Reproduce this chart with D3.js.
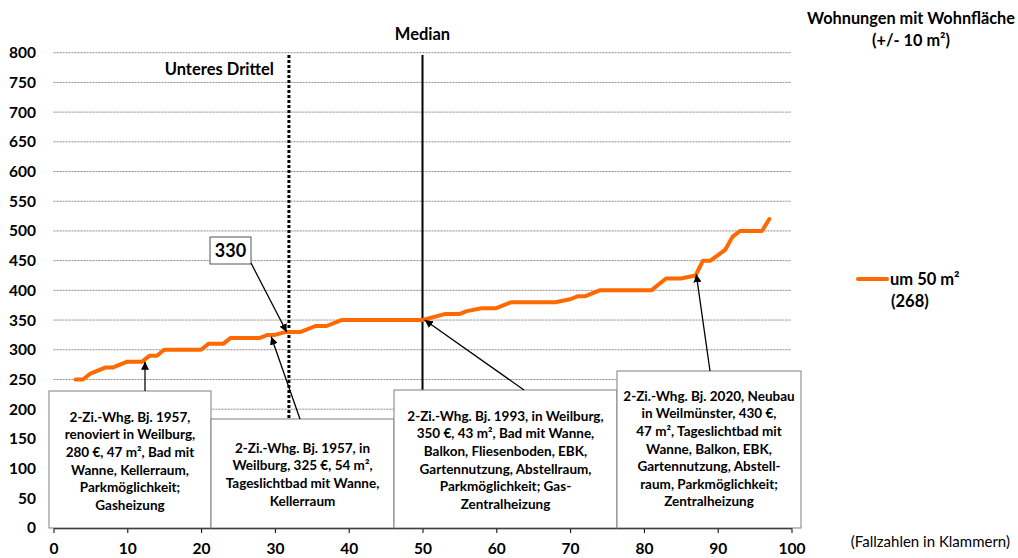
<!DOCTYPE html>
<html>
<head>
<meta charset="utf-8">
<script src="https://cdn.jsdelivr.net/npm/d3@7"></script>
<style>
  body { margin: 0; background: #fff; }
  svg text { font-family: Lato, "Open Sans", sans-serif; }
</style>
</head>
<body>
<svg id="chart" width="1018" height="558"></svg>
<script>
// percentile position (x) and net rent in EUR (y)
var pctl  = [3, 4, 5, 7, 8, 10, 12, 13, 14, 15, 20, 21, 23, 24, 28, 29, 30, 31.5, 33.5, 35.5,
             37, 39, 50, 53, 55, 56, 58, 60, 62, 68, 70, 71, 72, 74, 81, 83, 85, 87, 88, 89,
             91, 92, 93, 96, 97];
var miete = [250, 250, 260, 270, 270, 280, 280, 290, 290, 300, 300, 310, 310, 320, 320, 325, 325, 330, 330, 340,
             340, 350, 350, 360, 360, 365, 370, 370, 380, 380, 385, 390, 390, 400, 400, 420, 420, 425, 450, 450,
             468, 490, 500, 500, 520];

var xTicks = [0, 10, 20, 30, 40, 50, 60, 70, 80, 90, 100];
var yTicks = [0, 50, 100, 150, 200, 250, 300, 350, 400, 450, 500, 550, 600, 650, 700, 750, 800];

var medianX = 50;
var drittelX = 31.9;
var highlightValue = 330;

var seriesName = "um 50 m²";
var seriesCount = "(268)";

// example flats: text lines and the point on the curve they refer to
var notes = [
  { lines: ["2-Zi.-Whg. Bj. 1957,", "renoviert in Weilburg,", "280 €, 47 m², Bad mit", "Wanne, Kellerraum,", "Parkmöglichkeit;", "Gasheizung"],
    target: [12.4, 280] },
  { lines: ["2-Zi.-Whg. Bj. 1957, in", "Weilburg, 325 €, 54 m²,", "Tageslichtbad mit Wanne,", "Kellerraum"],
    target: [29.5, 322] },
  { lines: ["2-Zi.-Whg. Bj. 1993, in Weilburg,", "350 €, 43 m², Bad mit Wanne,", "Balkon, Fliesenboden, EBK,", "Gartennutzung, Abstellraum,", "Parkmöglichkeit; Gas-", "Zentralheizung"],
    target: [50.3, 350] },
  { lines: ["2-Zi.-Whg. Bj. 2020, Neubau", "in Weilmünster, 430 €,", "47 m², Tageslichtbad mit", "Wanne, Balkon, EBK,", "Gartennutzung, Abstell-", "raum, Parkmöglichkeit;", "Zentralheizung"],
    target: [87.1, 427] }
];

// box layout in pixels (left, top, right, bottom, first text line, arrow start)
var boxLayout = [
  { x0: 49,  y0: 391, x1: 211, y1: 528, firstLine: 417, from: [145, 391] },
  { x0: 211, y0: 419, x1: 394, y1: 528, firstLine: 448, from: [300, 419] },
  { x0: 394, y0: 390, x1: 617, y1: 528, firstLine: 416, from: [524, 390] },
  { x0: 617, y0: 371, x1: 801, y1: 528, firstLine: 396, from: [710, 371] }
];

var svg = d3.select("#chart");
svg.append("rect").attr("width", 1018).attr("height", 558).attr("fill", "#fff");

var x = d3.scaleLinear().domain([0, 100]).range([53.5, 791.5]);
var y = d3.scaleLinear().domain([0, 800]).range([528, 52.7]);

// arrow head
svg.append("defs").append("marker")
  .attr("id", "head")
  .attr("viewBox", "0 0 10 10")
  .attr("refX", 10).attr("refY", 5)
  .attr("markerWidth", 8).attr("markerHeight", 8)
  .attr("markerUnits", "userSpaceOnUse")
  .attr("orient", "auto")
  .append("path")
  .attr("d", "M0,0 L10,5 L0,10 z")
  .attr("fill", "#000");

// gridlines
svg.append("g").selectAll("line")
  .data(yTicks.filter(function(d) { return d > 0; }))
  .enter().append("line")
  .attr("x1", x(0)).attr("x2", x(100))
  .attr("y1", function(d) { return y(d); })
  .attr("y2", function(d) { return y(d); })
  .attr("stroke", "#8a8a8a")
  .attr("stroke-width", 1)
  .attr("stroke-dasharray", "2,1");

// y axis labels only
var yAxis = svg.append("g")
  .attr("transform", "translate(" + x(0) + ",0)")
  .call(d3.axisLeft(y).tickValues(yTicks).tickSize(0).tickPadding(17.5));
yAxis.select(".domain").remove();
yAxis.selectAll("text")
  .style("font-size", "15.5px").style("font-weight", "bold").attr("fill", "#000");

// x axis
var xAxis = svg.append("g")
  .attr("transform", "translate(0," + y(0) + ")")
  .call(d3.axisBottom(x).tickValues(xTicks).tickSize(5).tickPadding(10).tickSizeOuter(0));
xAxis.select(".domain").attr("stroke", "#000").attr("stroke-width", 1.3);
xAxis.selectAll(".tick line").attr("stroke", "#000");
xAxis.selectAll("text")
  .style("font-size", "15.5px").style("font-weight", "bold").attr("fill", "#000");

// median and lower third lines
svg.append("line")
  .attr("x1", x(medianX)).attr("x2", x(medianX))
  .attr("y1", 55).attr("y2", y(0))
  .attr("stroke", "#000").attr("stroke-width", 2);
svg.append("text")
  .attr("x", x(medianX)).attr("y", 40)
  .attr("text-anchor", "middle")
  .style("font-size", "16.5px").style("font-weight", "bold")
  .text("Median");

svg.append("line")
  .attr("x1", x(drittelX)).attr("x2", x(drittelX))
  .attr("y1", 55).attr("y2", y(0))
  .attr("stroke", "#000").attr("stroke-width", 3)
  .attr("stroke-dasharray", "3,2");
svg.append("text")
  .attr("x", x(drittelX) - 15).attr("y", 75)
  .attr("text-anchor", "end")
  .style("font-size", "16.5px").style("font-weight", "bold")
  .text("Unteres Drittel");

// the series
var line = d3.line()
  .x(function(d, i) { return x(pctl[i]); })
  .y(function(d) { return y(d); });

svg.append("path")
  .datum(miete)
  .attr("d", line)
  .attr("fill", "none")
  .attr("stroke", "#ff6a00")
  .attr("stroke-width", 4)
  .attr("stroke-linejoin", "round")
  .attr("stroke-linecap", "round");

// annotation boxes
notes.forEach(function(n, i) {
  var b = boxLayout[i];
  var g = svg.append("g");
  g.append("rect")
    .attr("x", b.x0).attr("y", b.y0)
    .attr("width", b.x1 - b.x0).attr("height", b.y1 - b.y0)
    .attr("fill", "#fff").attr("stroke", "#7f7f7f").attr("stroke-width", 1);
  g.append("g").selectAll("text")
    .data(n.lines)
    .enter().append("text")
    .attr("x", (b.x0 + b.x1) / 2)
    .attr("y", function(d, j) { return b.firstLine + j * 17.6; })
    .attr("dy", "0.35em")
    .attr("text-anchor", "middle")
    .style("font-size", "13.5px").style("font-weight", "bold")
    .text(function(d) { return d; });
});

// arrows drawn after boxes
notes.forEach(function(n, i) {
  var b = boxLayout[i];
  svg.append("line")
    .attr("x1", b.from[0]).attr("y1", b.from[1])
    .attr("x2", x(n.target[0])).attr("y2", y(n.target[1]))
    .attr("stroke", "#000").attr("stroke-width", 1.3)
    .attr("marker-end", "url(#head)");
});

// 330 label
var lab = svg.append("g");
lab.append("rect")
  .attr("x", 210).attr("y", 237).attr("width", 41).attr("height", 27)
  .attr("fill", "#fff").attr("stroke", "#555").attr("stroke-width", 1);
lab.append("text")
  .attr("x", 230.5).attr("y", 250.5).attr("dy", "0.35em")
  .attr("text-anchor", "middle")
  .style("font-size", "18px").style("font-weight", "bold")
  .text(highlightValue);
svg.append("line")
  .attr("x1", 251).attr("y1", 263)
  .attr("x2", x(31.6)).attr("y2", y(highlightValue))
  .attr("stroke", "#000").attr("stroke-width", 1.3)
  .attr("marker-end", "url(#head)");

// title and legend
svg.append("text")
  .attr("x", 911).attr("y", 24)
  .attr("text-anchor", "middle")
  .style("font-size", "16.3px").style("font-weight", "bold")
  .text("Wohnungen mit Wohnfläche");
svg.append("text")
  .attr("x", 911).attr("y", 46)
  .attr("text-anchor", "middle")
  .style("font-size", "16.3px").style("font-weight", "bold")
  .text("(+/- 10 m²)");

svg.append("line")
  .attr("x1", 858).attr("x2", 887)
  .attr("y1", 279).attr("y2", 279)
  .attr("stroke", "#ff6a00").attr("stroke-width", 4)
  .attr("stroke-linecap", "round");
svg.append("text")
  .attr("x", 890).attr("y", 279).attr("dy", "0.35em")
  .style("font-size", "16.5px").style("font-weight", "bold")
  .text(seriesName);
svg.append("text")
  .attr("x", 891).attr("y", 301).attr("dy", "0.35em")
  .style("font-size", "16.5px").style("font-weight", "bold")
  .text(seriesCount);

svg.append("text")
  .attr("x", 1010).attr("y", 547)
  .attr("text-anchor", "end")
  .style("font-size", "15px")
  .text("(Fallzahlen in Klammern)");
</script>
</body>
</html>
